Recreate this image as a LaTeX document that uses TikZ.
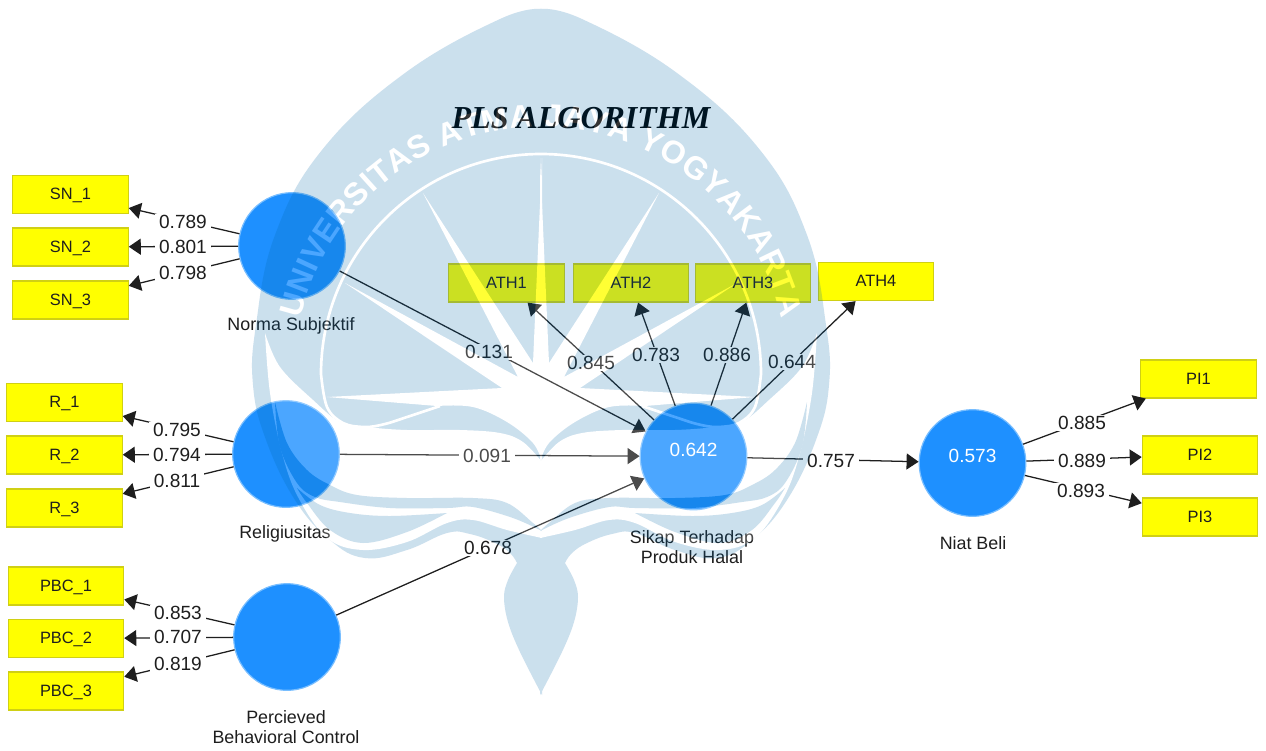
\documentclass[tikz,border=0pt]{standalone}
\usepackage{fontspec}
\setmainfont{Liberation Sans}
\newfontfamily\titlefont{Liberation Serif}
\usetikzlibrary{arrows.meta,decorations.text}
\definecolor{wmblue}{RGB}{0,103,171}
\definecolor{latentfill}{RGB}{30,144,255}
\definecolor{latentedge}{RGB}{120,190,255}
\definecolor{indfill}{RGB}{255,255,0}
\definecolor{indedge}{RGB}{208,208,20}
\definecolor{inktext}{RGB}{30,30,30}
\tikzset{
  latent/.style={circle,fill=latentfill,draw=latentedge,line width=.9pt,minimum size=80pt,inner sep=0pt,text=white,font=\fontsize{14.3}{16}\selectfont},
  ind/.style={rectangle,fill=indfill,draw=indedge,line width=.9pt,minimum width=86.5pt,minimum height=28.5pt,inner sep=0pt,text=inktext,text height=8.2pt,text depth=0pt,font=\fontsize{12.3}{14}\selectfont},
  coef/.style={fill=white,inner xsep=3pt,inner ysep=1pt,text=inktext,font=\fontsize{14.3}{16}\selectfont},
  capt/.style={text=inktext,align=center,font=\fontsize{13.4}{15}\selectfont},
  link/.style={draw=inktext,line width=.95pt,-{Triangle[length=9pt,width=12pt]}},
}
\newcommand{\wmblueparts}{%
  \fill[wmblue] plot[smooth,tension=.7] coordinates {(542,-9)(500,-19)(405,-73)(322,-150)(275,-235)(256,-325)(253,-385)(266,-440)(295,-500)(330,-540)(365,-558)(407,-550)(447,-533)(470,-534)(495,-543)(510,-553)(517,-563)}
    -- plot[smooth,tension=.6] coordinates {(517,-563)(508,-580)(504,-597)(508,-622)(520,-652)(542,-695)} -- cycle;
}
\newcommand{\wmwhiteparts}{%
  % wide white area between the disc and the lower ribbons
  \fill[white] plot[smooth,tension=.6] coordinates {(265,-333)(280,-367)(313,-400)(340,-422)(367,-427)(407,-430)(460,-430)(500,-433)(523,-442)(542,-462)}
    -- (542,-538) -- plot[smooth,tension=.6] coordinates {(542,-538)(507,-530)(473,-520)(447,-523)(407,-542)(363,-550)(327,-538)(298,-497)(282,-453)(270,-393)(265,-333)} -- cycle;
  % fan of rays
  \fill[white] (542,-158) -- (533,-363) -- (423,-193) -- (518,-377) -- (345,-283) -- (502,-388) -- (327,-397) -- (437,-406)
    -- plot[smooth,tension=.6] coordinates {(437,-406)(473,-407)(507,-422)(533,-443)(542,-462)} -- cycle;
  % ring and the thin line that leaves it
  \draw[white,line width=2pt] (541,-154) arc[start angle=90,end angle=180,radius=220]
    -- plot[smooth,tension=.6] coordinates {(321,-374)(327,-407)(343,-423)(365,-427)(385,-424)(407,-417)(440,-406)};
}
\newcommand{\wmribbons}{%
  \fill[wmblue] plot[smooth,tension=.6] coordinates {(275,-402)(287,-443)(307,-470)(330,-485)(357,-495)(407,-498)(473,-498)(507,-503)(533,-523)(542,-531)}
    -- plot[smooth,tension=.6] coordinates {(542,-531)(513,-518)(473,-507)(447,-508)(390,-508)(340,-502)(315,-497)(297,-483)(280,-447)(275,-402)} -- cycle;
  \fill[wmblue] plot[smooth,tension=.6] coordinates {(297,-488)(320,-505)(350,-513)(390,-516)(447,-513)}
    -- plot[smooth,tension=.6] coordinates {(447,-513)(407,-532)(363,-543)(330,-530)(307,-503)(297,-488)} -- cycle;
}
\begin{document}
\begin{tikzpicture}[x=.75pt,y=.75pt]
\fill[white] (0,0) rectangle (1266,-750);
\useasboundingbox (0,0) rectangle (1266,-750);

\node[text=black,font=\titlefont\bfseries\itshape\fontsize{24}{28}\selectfont] (title) at (581,-118) {PLS ALGORITHM};

% latent variables
\node[latent] (ns) at (292,-246) {};
\node[latent] (rel) at (286,-454) {};
\node[latent] (pbc) at (287,-637) {};
\node[latent] (sikap) at (693.5,-456.5) {\raisebox{10.5pt}{0.642}};
\node[latent] (niat) at (972.5,-463) {\raisebox{10.5pt}{0.573}};

% captions
\node[capt] (nsc) at (291,-326) {Norma Subjektif};
\node[capt] (relc) at (285,-534) {Religiusitas};
\node[capt] (sikapc) at (692,-547) {Sikap Terhadap\\Produk Halal};
\node[capt] (niatc) at (973,-543) {Niat Beli};
\node[capt] (pbcc) at (286,-727) {Percieved\\Behavioral Control};

% indicators
\node[ind] (sn1) at (70.5,-194.5) {SN\_1};
\node[ind] (sn2) at (70.5,-247) {SN\_2};
\node[ind] (sn3) at (70.5,-300) {SN\_3};
\node[ind] (r1) at (64.5,-402.5) {R\_1};
\node[ind] (r2) at (64.5,-455) {R\_2};
\node[ind] (r3) at (64.5,-508) {R\_3};
\node[ind] (pbc1) at (66,-586) {PBC\_1};
\node[ind] (pbc2) at (66,-638.5) {PBC\_2};
\node[ind] (pbc3) at (66,-691) {PBC\_3};
\node[ind] (ath1) at (506.5,-283) {ATH1};
\node[ind] (ath2) at (631,-283) {ATH2};
\node[ind] (ath3) at (753,-283) {ATH3};
\node[ind] (ath4) at (876,-281.5) {ATH4};
\node[ind] (pi1) at (1198.5,-379) {PI1};
\node[ind] (pi2) at (1200,-455) {PI2};
\node[ind] (pi3) at (1200,-517) {PI3};

% connectors
\draw[link] (ns) -- (sn1);
\draw[link] (ns) -- (sn2);
\draw[link] (ns) -- (sn3);
\draw[link] (rel) -- (r1);
\draw[link] (rel) -- (r2);
\draw[link] (rel) -- (r3);
\draw[link] (pbc) -- (pbc1);
\draw[link] (pbc) -- (pbc2);
\draw[link] (pbc) -- (pbc3);
\draw[link] (sikap) -- (ath1);
\draw[link] (sikap) -- (ath2);
\draw[link] (sikap) -- (ath3);
\draw[link] (sikap) -- (ath4);
\draw[link] (niat) -- (pi1);
\draw[link] (niat) -- (pi2);
\draw[link] (niat) -- (pi3);
\draw[link] (ns) -- (sikap);
\draw[link] (rel) -- (sikap);
\draw[link] (pbc) -- (sikap);
\draw[link] (sikap) -- (niat);

% coefficients
\node[coef] (c1) at (183,-222) {0.789};
\node[coef] (c2) at (183,-247) {0.801};
\node[coef] (c3) at (183,-273) {0.798};
\node[coef] (c4) at (177,-430) {0.795};
\node[coef] (c5) at (177,-455) {0.794};
\node[coef] (c6) at (177,-481) {0.811};
\node[coef] (c7) at (178,-613) {0.853};
\node[coef] (c8) at (178,-637) {0.707};
\node[coef] (c9) at (178,-664) {0.819};
\node[coef] (c10) at (591,-363) {0.845};
\node[coef] (c11) at (656,-355) {0.783};
\node[coef] (c12) at (727,-355) {0.886};
\node[coef] (c13) at (792,-362) {0.644};
\node[coef] (c14) at (489,-352) {0.131};
\node[coef] (c15) at (487,-456) {0.091};
\node[coef] (c16) at (488,-548) {0.678};
\node[coef] (c17) at (831,-461) {0.757};
\node[coef] (c18) at (1082,-423) {0.885};
\node[coef] (c19) at (1082,-461) {0.889};
\node[coef] (c20) at (1081,-491) {0.893};

% watermark laid over everything
\begin{scope}[transparency group,opacity=.204]
  \wmblueparts
  \begin{scope}[shift={(1082,0)},xscale=-1]\wmblueparts\end{scope}
  \wmwhiteparts
  \begin{scope}[shift={(1082,0)},xscale=-1]\wmwhiteparts\end{scope}
  \wmribbons
  \begin{scope}[shift={(1082,0)},xscale=-1]\wmribbons\end{scope}
  \path[decorate,decoration={text along path,text align={fit to path},
      text={|\color{white}\bfseries\fontsize{24}{28}\selectfont|UNIVERSITAS ATMA JAYA YOGYAKARTA}}]
    ({541+247*cos(167)},{-374+247*sin(167)}) arc[start angle=167,end angle=13,radius=247];
\end{scope}
\end{tikzpicture}
\end{document}
